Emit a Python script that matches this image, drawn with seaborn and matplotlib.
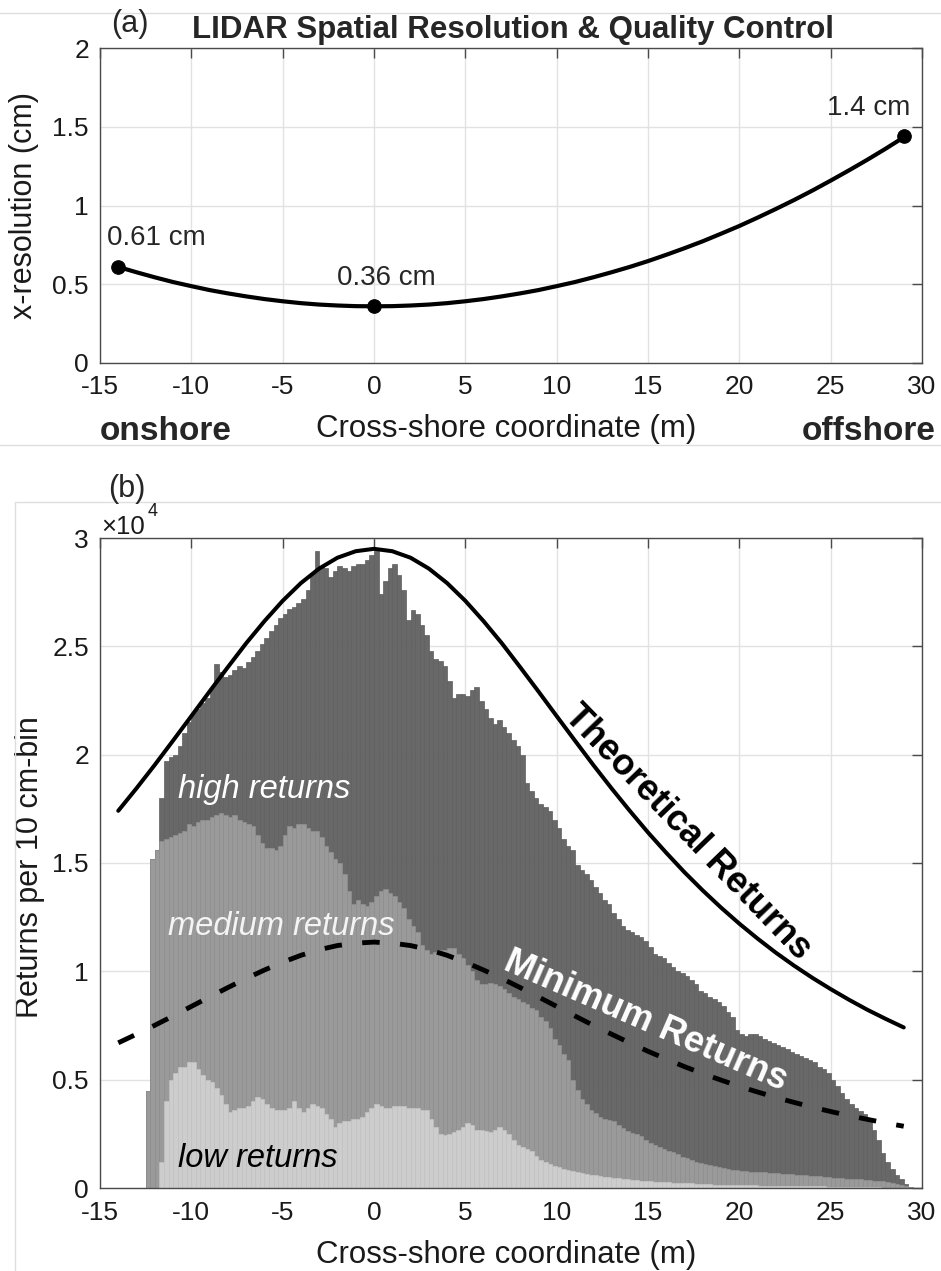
import numpy as np
import pandas as pd
import matplotlib
matplotlib.use("Agg")
import matplotlib.pyplot as plt
from matplotlib.lines import Line2D
from matplotlib.ticker import FuncFormatter
import seaborn as sns

# ---------------- data ----------------
# panel (a): x-resolution along the cross-shore coordinate
res_x = [-14, -13, -12, -11, -10, -9, -8, -7, -6, -5, -4, -3, -2, -1, 0,
         1, 2, 3, 4, 5, 6, 7, 8, 9, 10, 11, 12, 13, 14, 15, 16, 17, 18, 19,
         20, 21, 22, 23, 24, 25, 26, 27, 28, 29]
res_cm = [0.610, 0.576, 0.544, 0.514, 0.488, 0.463, 0.442, 0.423, 0.406, 0.392,
          0.380, 0.371, 0.365, 0.361, 0.360, 0.361, 0.365, 0.371, 0.380, 0.392,
          0.406, 0.423, 0.442, 0.463, 0.488, 0.514, 0.544, 0.576, 0.610, 0.647,
          0.687, 0.729, 0.773, 0.821, 0.870, 0.923, 0.978, 1.035, 1.095, 1.158,
          1.223, 1.290, 1.360, 1.433]
mark_x = [-14, 0, 29]
mark_y = [0.61, 0.36, 1.44]
mark_labels = ["0.61 cm", "0.36 cm", "1.4 cm"]

# panel (b): returns per 10 cm bin (units of 1e4), bins of 0.25 m from -12.5 m
BIN_START = -12.5
BIN_W = 0.25
high_returns = [
    0.45, 1.52, 1.56, 1.80,  1.97, 1.99, 2.00, 2.04,  2.10, 2.15, 2.19, 2.21,
    2.24, 2.26, 2.31, 2.42,  2.38, 2.36, 2.37, 2.39,  2.41, 2.40, 2.43, 2.45,
    2.48, 2.51, 2.54, 2.57,  2.60, 2.63, 2.65, 2.67,  2.68, 2.70, 2.72, 2.76,
    2.84, 2.94, 2.87, 2.86,  2.82, 2.85, 2.87, 2.86,  2.85, 2.87, 2.88, 2.88,
    2.90, 2.92, 2.94, 2.74,  2.80, 2.86, 2.88, 2.83,  2.76, 2.62, 2.67, 2.65,
    2.60, 2.55, 2.48, 2.44,  2.43, 2.41, 2.34, 2.26,  2.28, 2.28, 2.27, 2.30,
    2.31, 2.25, 2.21, 2.17,  2.14, 2.16, 2.13, 2.10,  2.07, 2.04, 2.00, 1.87,
    1.83, 1.80, 1.77, 1.76,  1.74, 1.70, 1.66, 1.61,  1.58, 1.56, 1.49, 1.47,
    1.45, 1.42, 1.39, 1.36,  1.33, 1.31, 1.27, 1.24,  1.21, 1.19, 1.18, 1.17,
    1.16, 1.14, 1.11, 1.08,  1.07, 1.06, 1.04, 1.02,  1.00, 0.99, 0.98, 0.96,
    0.94, 0.91, 0.90, 0.88,  0.87, 0.86, 0.84, 0.81,  0.79, 0.73, 0.71, 0.70,
    0.71, 0.71, 0.70, 0.69,  0.68, 0.67, 0.66, 0.65,  0.64, 0.63, 0.62, 0.61,
    0.60, 0.59, 0.58, 0.56,  0.55, 0.53, 0.50, 0.47,  0.44, 0.41, 0.39, 0.37,
    0.355, 0.34, 0.31, 0.27, 0.22, 0.16, 0.12, 0.09,  0.06, 0.04, 0.02, 0.005]
medium_returns = [
    0.45, 1.52, 1.56, 1.60,  1.61, 1.62, 1.63, 1.64,  1.65, 1.68, 1.67, 1.69,
    1.70, 1.70, 1.71, 1.72,  1.73, 1.72, 1.71, 1.72,  1.70, 1.69, 1.68, 1.67,
    1.63, 1.59, 1.57, 1.57,  1.56, 1.58, 1.63, 1.67,  1.66, 1.68, 1.68, 1.66,
    1.65, 1.65, 1.62, 1.58,  1.55, 1.52, 1.50, 1.45,  1.37, 1.31, 1.33, 1.31,
    1.30, 1.32, 1.35, 1.37,  1.38, 1.36, 1.35, 1.32,  1.29, 1.24, 1.21, 1.18,
    1.12, 1.10, 1.08, 1.09,  1.10, 1.10, 1.11, 1.11,  1.08, 1.06, 1.03, 1.00,
    0.96, 0.94, 0.94, 0.945, 0.94, 0.93, 0.92, 0.90,  0.88, 0.87, 0.86, 0.85,
    0.83, 0.82, 0.79, 0.77,  0.74, 0.69, 0.66, 0.62,  0.59, 0.50, 0.45, 0.41,
    0.39, 0.36, 0.345, 0.33, 0.32, 0.315, 0.31, 0.29, 0.275, 0.265, 0.255, 0.25,
    0.24, 0.22, 0.21, 0.20,  0.19, 0.18, 0.17, 0.165, 0.155, 0.145, 0.14, 0.13,
    0.12, 0.115, 0.11, 0.105, 0.10, 0.095, 0.09, 0.088, 0.085, 0.083, 0.08, 0.078,
    0.076, 0.075, 0.073, 0.072, 0.070, 0.068, 0.067, 0.066, 0.065, 0.063, 0.062, 0.060,
    0.058, 0.057, 0.056, 0.054, 0.052, 0.050, 0.048, 0.046, 0.044, 0.043, 0.042, 0.041,
    0.040, 0.038, 0.036, 0.034, 0.032, 0.030, 0.028, 0.025, 0.020, 0.015, 0.010, 0.003]
low_returns = [
    0.0, 0.0, 0.0, 0.12,  0.40, 0.50, 0.53, 0.56,  0.56, 0.58, 0.58, 0.55,
    0.52, 0.50, 0.49, 0.46,  0.43, 0.39, 0.35, 0.36,  0.37, 0.37, 0.38, 0.40,
    0.42, 0.41, 0.39, 0.37,  0.36, 0.36, 0.36, 0.37,  0.40, 0.37, 0.35, 0.37,
    0.39, 0.38, 0.37, 0.34,  0.32, 0.28, 0.30, 0.31,  0.31, 0.32, 0.32, 0.33,
    0.35, 0.37, 0.39, 0.38,  0.37, 0.37, 0.38, 0.38,  0.38, 0.37, 0.37, 0.37,
    0.36, 0.36, 0.32, 0.28,  0.25, 0.245, 0.25, 0.26, 0.27, 0.28, 0.30, 0.29,
    0.27, 0.27, 0.265, 0.26, 0.27, 0.28, 0.27, 0.25,  0.22, 0.20, 0.19, 0.18,
    0.17, 0.15, 0.13, 0.12,  0.11, 0.10, 0.095, 0.09, 0.085, 0.08, 0.075, 0.07,
    0.065, 0.06, 0.058, 0.055, 0.052, 0.05, 0.048, 0.045, 0.042, 0.04, 0.038, 0.036,
    0.034, 0.032, 0.03, 0.029, 0.028, 0.027, 0.026, 0.025, 0.024, 0.023, 0.022, 0.021,
    0.020, 0.019, 0.018, 0.017, 0.016, 0.015, 0.015, 0.014, 0.014, 0.013, 0.013, 0.012,
    0.012, 0.012, 0.011, 0.011, 0.011, 0.010, 0.010, 0.010, 0.009, 0.009, 0.009, 0.008,
    0.008, 0.008, 0.007, 0.007, 0.007, 0.006, 0.006, 0.006, 0.005, 0.005, 0.005, 0.004,
    0.004, 0.004, 0.003, 0.003, 0.003, 0.002, 0.002, 0.002, 0.001, 0.001, 0.0, 0.0]

curve_x = res_x
theoretical_returns = [1.741, 1.845, 1.953, 2.065, 2.178, 2.292, 2.404, 2.514, 2.616,
                       2.710, 2.792, 2.859, 2.909, 2.939, 2.950, 2.939, 2.909, 2.859,
                       2.792, 2.710, 2.616, 2.514, 2.404, 2.292, 2.178, 2.065, 1.953,
                       1.845, 1.741, 1.641, 1.547, 1.457, 1.373, 1.294, 1.220, 1.151,
                       1.086, 1.026, 0.970, 0.918, 0.869, 0.823, 0.781, 0.741]
minimum_returns = [0.670, 0.710, 0.751, 0.794, 0.838, 0.882, 0.925, 0.967, 1.006,
                   1.042, 1.074, 1.100, 1.119, 1.130, 1.135, 1.130, 1.119, 1.100,
                   1.074, 1.042, 1.006, 0.967, 0.925, 0.882, 0.838, 0.794, 0.751,
                   0.710, 0.670, 0.631, 0.595, 0.560, 0.528, 0.498, 0.469, 0.443,
                   0.418, 0.395, 0.373, 0.353, 0.334, 0.317, 0.300, 0.285]

x_ticks = [-15, -10, -5, 0, 5, 10, 15, 20, 25, 30]
ya_ticks = [0, 0.5, 1, 1.5, 2]
yb_ticks = [0, 0.5, 1, 1.5, 2, 2.5, 3]

# ---------------- style ----------------
sns.set_theme(style="white")
plt.rcParams["font.family"] = ["Liberation Sans", "DejaVu Sans"]
plt.rcParams["axes.unicode_minus"] = False

W, H = 941, 1271
fig = plt.figure(figsize=(W / 100, H / 100), dpi=100)
fx = lambda px: px / W
fy = lambda py: 1 - py / H

ax_a = fig.add_axes([fx(100), fy(363), 822 / W, 315 / H])
ax_b = fig.add_axes([fx(100), fy(1188), 822 / W, 650 / H])

AX_COL = "#4a4a4a"
fmt = FuncFormatter(lambda v, p: f"{v:g}")


def style(ax, ylim, yticks):
    ax.set_xlim(-15, 30)
    ax.set_ylim(*ylim)
    ax.set_xticks(x_ticks)
    ax.set_yticks(yticks)
    ax.xaxis.set_major_formatter(fmt)
    ax.yaxis.set_major_formatter(fmt)
    ax.grid(True, color="#e2e2e2", lw=1.0)
    ax.set_axisbelow(True)
    for s in ax.spines.values():
        s.set_visible(True)
        s.set_color(AX_COL)
        s.set_linewidth(1.0)
        s.set_zorder(5)
    ax.tick_params(direction="in", top=True, right=True, length=7, width=1.0,
                   color=AX_COL, labelsize=19, labelcolor="#1a1a1a")
    ax.tick_params(axis="x", pad=9)
    ax.tick_params(axis="y", pad=8)


# ---------------- panel (a) ----------------
sns.lineplot(x=res_x, y=res_cm, ax=ax_a, color="black", linewidth=3.0)
sns.scatterplot(x=mark_x, y=mark_y, ax=ax_a, s=95, color="black",
                edgecolor="black", zorder=4, clip_on=False)
style(ax_a, (0, 2), ya_ticks)
ax_a.text(-14.6, 0.751, mark_labels[0], fontsize=20, ha="left", va="baseline")
ax_a.text(-2.03, 0.497, mark_labels[1], fontsize=20, ha="left", va="baseline")
ax_a.text(24.78, 1.577, mark_labels[2], fontsize=20, ha="left", va="baseline")

ax_a.set_ylabel("x-resolution (cm)", fontsize=22, color="#1a1a1a")
ax_a.yaxis.label.set_va("center")
ax_a.yaxis.set_label_coords((24 - 100) / 822, 0.5)
ax_a.set_xlabel("Cross-shore coordinate (m)", fontsize=22.5, color="#1a1a1a")
ax_a.xaxis.label.set_va("baseline")
ax_a.xaxis.set_label_coords(0.494, (363 - 437) / 315)

fig.text(fx(100), fy(440), "onshore", fontsize=24, weight="bold",
         ha="left", va="baseline")
fig.text(fx(936), fy(440), "offshore", fontsize=24, weight="bold",
         ha="right", va="baseline")
fig.text(fx(513), fy(38), "LIDAR Spatial Resolution & Quality Control",
         fontsize=22.5, weight="bold", ha="center", va="baseline")
fig.text(fx(111), fy(24), "(a)", fontsize=22, ha="left", va="center")

# ---------------- panel (b) ----------------
n_bins = len(high_returns)
edges = BIN_START + BIN_W * np.arange(n_bins + 1)
centers = edges[:-1] + BIN_W / 2

layers = [
    (high_returns, "#686868", "#5e5e5e"),
    (medium_returns, "#9a9a9a", "#909090"),
    (low_returns, "#cdcdcd", "#c3c3c3"),
]
for vals, fc, ec in layers:
    df = pd.DataFrame({"x": centers, "w": np.asarray(vals, dtype=float)})
    sns.histplot(data=df, x="x", weights="w", bins=list(edges), ax=ax_b,
                 stat="count", color=fc, edgecolor=ec, linewidth=0.5,
                 alpha=1.0, element="bars", fill=True)

sns.lineplot(x=curve_x, y=theoretical_returns, ax=ax_b, color="black",
             linewidth=2.9)
sns.lineplot(x=curve_x, y=minimum_returns, ax=ax_b, color="black",
             linewidth=3.5)
ax_b.lines[-1].set_linestyle((0, (3.6, 4.2)))
style(ax_b, (0, 3), yb_ticks)

ax_b.set_ylabel("Returns per 10 cm-bin", fontsize=22, color="#1a1a1a")
ax_b.yaxis.label.set_va("center")
ax_b.yaxis.set_label_coords((30 - 100) / 822, 0.494)
ax_b.set_xlabel("Cross-shore coordinate (m)", fontsize=22.5, color="#1a1a1a")
ax_b.xaxis.label.set_va("baseline")
ax_b.xaxis.set_label_coords(0.494, (1188 - 1263) / 650)

ax_b.text(-10.73, 1.80, "high returns", fontsize=23.5, style="italic",
          color="white", ha="left", va="baseline")
ax_b.text(-11.26, 1.167, "medium returns", fontsize=23.5, style="italic",
          color="#f4f4f4", ha="left", va="baseline")
ax_b.text(-10.71, 0.098, "low returns", fontsize=23.5, style="italic",
          color="black", ha="left", va="baseline")
ax_b.text(17.18, 1.643, "Theoretical Returns", fontsize=26, weight="bold",
          color="black", rotation=-46, rotation_mode="anchor",
          ha="center", va="center")
ax_b.text(14.89, 0.77, "Minimum Returns", fontsize=26, weight="bold",
          color="white", rotation=-23.5, rotation_mode="anchor",
          ha="center", va="center")

fig.text(fx(108), fy(489), "(b)", fontsize=22, ha="left", va="center")
fig.text(fx(101), fy(527), "\u00d710", fontsize=18.5, ha="left", va="center",
         color="#1a1a1a")
fig.text(fx(148), fy(511), "4", fontsize=13, ha="left", va="center",
         color="#1a1a1a")

# faint panel frame lines
for y in (13, 445):
    fig.add_artist(Line2D([0, 1], [fy(y), fy(y)], transform=fig.transFigure,
                          color="#dedede", lw=1.0))
fig.add_artist(Line2D([fx(15), 1], [fy(502), fy(502)], transform=fig.transFigure,
                      color="#dedede", lw=1.0))
fig.add_artist(Line2D([fx(15), fx(15)], [fy(502), 0], transform=fig.transFigure,
                      color="#dedede", lw=1.0))

fig.savefig("out.png", dpi=100)
